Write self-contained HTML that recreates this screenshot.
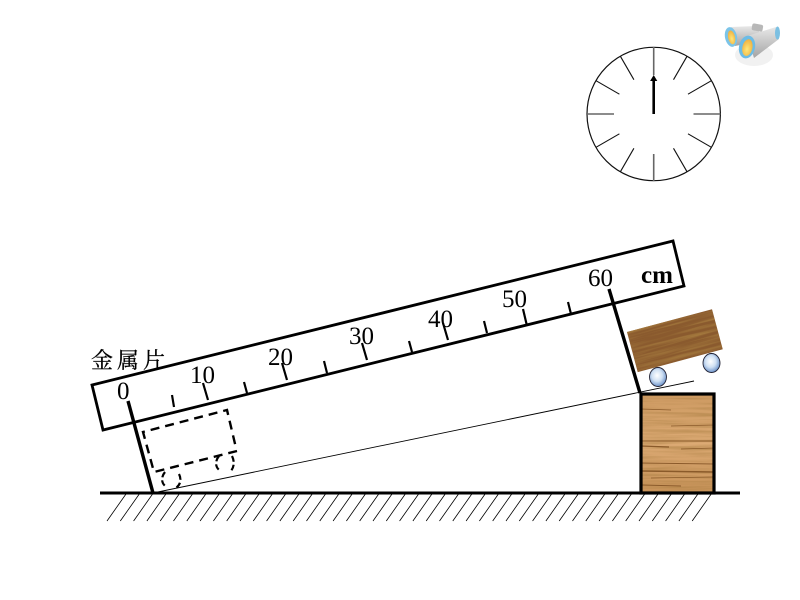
<!DOCTYPE html>
<html><head><meta charset="utf-8"><style>
html,body{margin:0;padding:0;background:#fff}
svg{display:block}
text{font-family:"Liberation Serif","Noto Serif CJK SC",serif;font-size:25px;fill:#000}
</style></head><body>
<svg width="800" height="600" viewBox="0 0 800 600" xmlns="http://www.w3.org/2000/svg">
<defs>
<filter id="g1" x="0" y="0" width="100%" height="100%"><feTurbulence type="fractalNoise" baseFrequency="0.012 0.35" numOctaves="3" seed="4"/><feColorMatrix values="0 0 0 0 0.38 0 0 0 0 0.2 0 0 0 0 0.05 2.6 0 0 0 -1"/></filter>
<radialGradient id="ball" cx="0.45" cy="0.42" r="0.62"><stop offset="0" stop-color="#fff"/><stop offset="0.5" stop-color="#cfe0f3"/><stop offset="1" stop-color="#5f88c4"/></radialGradient>
<linearGradient id="body" x1="0" y1="0" x2="0" y2="1"><stop offset="0" stop-color="#e8e8e8"/><stop offset="1" stop-color="#a4a4a4"/></linearGradient>
<linearGradient id="blk" x1="0" y1="0" x2="0" y2="1"><stop offset="0" stop-color="#cd9a62"/><stop offset="0.5" stop-color="#dcaa74"/><stop offset="1" stop-color="#c8935a"/></linearGradient>
<radialGradient id="lens" cx="0.5" cy="0.6" r="0.6"><stop offset="0" stop-color="#ffe87a"/><stop offset="1" stop-color="#eeb040"/></radialGradient>
</defs>

<!-- clock -->
<g stroke="#111" fill="none">
<circle cx="653.7" cy="114" r="66.7" stroke-width="1.2"/>
<g stroke-width="1.1">
<line x1="687" y1="56.3" x2="673.5" y2="79.7"/><line x1="711.4" y1="80.7" x2="688" y2="94.2"/>
<line x1="711.4" y1="147.3" x2="688" y2="133.8"/><line x1="687" y1="171.7" x2="673.5" y2="148.3"/>
<line x1="620.4" y1="171.7" x2="633.9" y2="148.3"/><line x1="596" y1="147.3" x2="619.4" y2="133.8"/>
<line x1="596" y1="80.7" x2="619.4" y2="94.2"/><line x1="620.4" y1="56.3" x2="633.9" y2="79.7"/>
</g>
<g stroke="#666" stroke-width="1.6">
<line x1="653.7" y1="47" x2="653.7" y2="75"/><line x1="653.7" y1="154" x2="653.7" y2="181"/>
<line x1="587" y1="114" x2="614" y2="114"/><line x1="693.5" y1="114" x2="720.5" y2="114"/>
</g>
</g>
<line x1="653.7" y1="114" x2="653.7" y2="80" stroke="#000" stroke-width="2.6"/>
<polygon points="653.7,75 657.3,81 650.1,81" fill="#000"/>

<!-- binoculars -->
<g>
<ellipse cx="754" cy="55" rx="19" ry="11" fill="#f1f1f1"/>
<polygon points="731,27 755,26 765,40 735,46" fill="url(#body)"/>
<polygon points="747,36 776,27 779,39 754,58" fill="url(#body)"/>
<rect x="752" y="24" width="11" height="7" rx="2" fill="#b8b8b8" transform="rotate(10 757 27)"/>
<ellipse cx="777.500" cy="33" rx="2.500" ry="6.500" fill="#7cc0e2"/>
<ellipse cx="731" cy="37" rx="6" ry="10" fill="#7cc4e8" transform="rotate(-12 731 37)"/>
<ellipse cx="731.500" cy="37.500" rx="3.500" ry="7" fill="url(#lens)" transform="rotate(-12 731 37)"/>
<ellipse cx="747" cy="47" rx="8" ry="11.500" fill="#6cbce6" transform="rotate(12 747 47)"/>
<ellipse cx="747.500" cy="47.500" rx="5" ry="8.500" fill="url(#lens)" transform="rotate(12 747 47)"/>
</g>

<!-- ruler -->
<polygon points="92,385 673,241 684,286 103,430" fill="#fff" stroke="#000" stroke-width="2.800"/>
<g stroke="#000" stroke-width="2.200">
<line x1="172" y1="395" x2="174" y2="407"/><line x1="203" y1="383" x2="208" y2="400"/>
<line x1="244" y1="382" x2="247" y2="393"/><line x1="282" y1="363" x2="287" y2="380"/>
<line x1="324" y1="361" x2="327" y2="373"/><line x1="362" y1="343" x2="367" y2="360"/>
<line x1="409" y1="341" x2="412" y2="352"/><line x1="443" y1="323" x2="448" y2="340"/>
<line x1="484" y1="321" x2="487" y2="333"/><line x1="523" y1="309" x2="527" y2="326"/>
<line x1="568" y1="302" x2="571" y2="314"/>
</g>
<text x="117" y="399">0</text>
<text x="190" y="383">10</text>
<text x="268" y="365">20</text>
<text x="349" y="344">30</text>
<text x="428" y="327">40</text>
<text x="502" y="307">50</text>
<text x="588" y="286">60</text>
<text x="641" y="283" style="font-weight:bold">cm</text>
<text x="91" y="368" style="font-size:22px;stroke:#000;stroke-width:.25">金</text>
<text x="117" y="368" style="font-size:22px;stroke:#000;stroke-width:.25">属</text>
<text x="143" y="368" style="font-size:22px;stroke:#000;stroke-width:.25">片</text>

<!-- metal plates -->
<line x1="128" y1="401" x2="153" y2="493" stroke="#000" stroke-width="3.400"/>
<line x1="609" y1="289" x2="640" y2="393" stroke="#000" stroke-width="3.400"/>
<!-- incline -->
<line x1="153" y1="493" x2="694" y2="381" stroke="#000" stroke-width="0.9"/>

<!-- dashed cart -->
<g fill="none" stroke="#000" stroke-width="2.400" stroke-dasharray="9 6">
<polyline points="237,451 154,472 143,432 227,410 236,448"/>
</g>
<g fill="none" stroke="#000" stroke-width="2.200" stroke-dasharray="6 3">
<path d="M165 472 C160 478 162 485 167 487"/>
<path d="M179 474 C182 480 180 485 176 488"/>
<path d="M219 456 C214 462 216 469 221 471"/>
<path d="M232 456 C235 462 234 468 230 472"/>
</g>

<!-- block -->
<rect x="641" y="394" width="73" height="99" fill="url(#blk)"/>
<svg x="641" y="394" width="73" height="99"><rect width="73" height="99" filter="url(#g1)" opacity="0.5"/>
<g stroke="#8a5a2a" fill="none">
<path d="M0 47 L73 47" stroke-width="1"/><path d="M0 52 L28 53" stroke-width="1.2"/><path d="M40 55 L73 54" stroke-width=".8"/>
<path d="M0 69 L73 70" stroke-width="1.1"/><path d="M0 77 L73 78" stroke-width="1.4"/><path d="M10 84 L73 83" stroke-width=".8"/>
<path d="M0 91 L40 92" stroke-width="1"/><path d="M0 15 L30 16" stroke-width=".7"/><path d="M30 32 L73 31" stroke-width=".7"/>
</g></svg>
<rect x="641" y="394" width="73" height="99" fill="none" stroke="#000" stroke-width="3.200"/>

<!-- ground -->
<line x1="100" y1="493" x2="740" y2="493" stroke="#000" stroke-width="3"/>
<path d="M107 521l19-27M120.300 521l19-27M133.600 521l19-27M146.900 521l19-27M160.200 521l19-27M173.500 521l19-27M186.800 521l19-27M200.100 521l19-27M213.400 521l19-27M226.700 521l19-27M240 521l19-27M253.300 521l19-27M266.600 521l19-27M279.900 521l19-27M293.200 521l19-27M306.500 521l19-27M319.800 521l19-27M333.100 521l19-27M346.400 521l19-27M359.700 521l19-27M373 521l19-27M386.300 521l19-27M399.600 521l19-27M412.900 521l19-27M426.200 521l19-27M439.500 521l19-27M452.800 521l19-27M466.100 521l19-27M479.400 521l19-27M492.700 521l19-27M506 521l19-27M519.300 521l19-27M532.600 521l19-27M545.900 521l19-27M559.200 521l19-27M572.500 521l19-27M585.800 521l19-27M599.100 521l19-27M612.400 521l19-27M625.700 521l19-27M639 521l19-27M652.300 521l19-27M665.600 521l19-27M678.900 521l19-27M692.200 521l19-27" stroke="#000" stroke-width="0.8" fill="none"/>

<!-- wood cart -->
<g transform="translate(627 332) rotate(-15)">
<rect width="88" height="41.500" fill="#8a5a2e"/>
<svg width="88" height="41.500"><rect width="88" height="41.500" filter="url(#g1)" opacity="0.9"/></svg>
</g>
<ellipse cx="658" cy="377" rx="8.500" ry="9.500" fill="url(#ball)" stroke="#223" stroke-width="0.9"/>
<ellipse cx="711.500" cy="363" rx="8.500" ry="9.500" fill="url(#ball)" stroke="#223" stroke-width="0.9"/>
</svg>
</body></html>
